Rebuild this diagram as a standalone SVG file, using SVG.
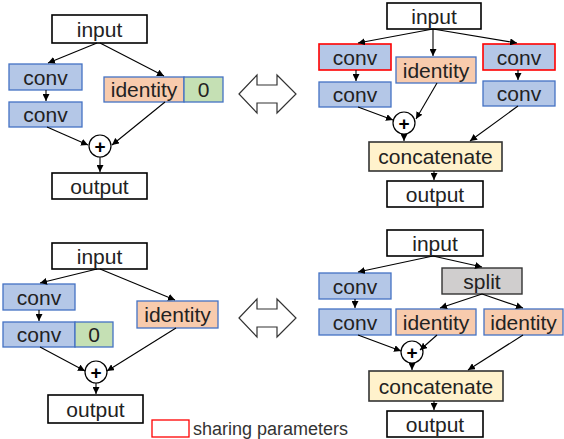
<svg xmlns="http://www.w3.org/2000/svg" width="564" height="439" viewBox="0 0 564 439">
<defs>
<marker id="ah" viewBox="0 0 8 8" refX="8" refY="4" markerWidth="7" markerHeight="7" markerUnits="userSpaceOnUse" orient="auto">
<path d="M0,0 L8,4 L0,8 z" fill="#000"/>
</marker>
<style>
rect{stroke-width:1.3}
.io{fill:#fff;stroke:#000;stroke-width:1.6}
.conv{fill:#b4c7e7;stroke:#4472c4}
.shared{fill:#b4c7e7;stroke:#ff0000;stroke-width:1.6}
.id{fill:#f8cbad;stroke:#4472c4}
.zero{fill:#c5e0b4;stroke:#4472c4}
.split{fill:#d0cece;stroke:#333;stroke-width:1.4}
.cat{fill:#fff2cc;stroke:#333;stroke-width:1.6}
.plus{fill:#fff;stroke:#000;stroke-width:1.2}
text{font-family:"Liberation Sans",Arial,sans-serif;font-size:21px;fill:#222;text-anchor:middle}
.pt{font-size:19px;font-weight:bold;fill:#000}
.leg{font-size:18px;text-anchor:start;fill:#333}
.c line{stroke:#000;stroke-width:1.1;marker-end:url(#ah)}
.dbl{fill:#fff;stroke:#333;stroke-width:1.2}
</style>
</defs>

<!-- Top-left -->
<g id="tl-input"><rect class="io" x="52" y="15" width="95" height="28"/><text x="99.5" y="36.5">input</text></g>
<g id="tl-conv1"><rect class="conv" x="9" y="64" width="73" height="26"/><text x="45.5" y="84.5">conv</text></g>
<g id="tl-conv2"><rect class="conv" x="9" y="102" width="73" height="25"/><text x="45.5" y="122">conv</text></g>
<g id="tl-identity"><rect class="id" x="104" y="77" width="80" height="25"/><text x="144" y="97">identity</text></g>
<g id="tl-zero"><rect class="zero" x="184" y="77" width="39" height="25"/><text x="203.5" y="97">0</text></g>
<g id="tl-plus"><circle class="plus" cx="100" cy="146" r="11"/><text class="pt" x="100" y="152.5">+</text></g>
<g id="tl-output"><rect class="io" x="52" y="173" width="95" height="26"/><text x="99.5" y="193.5">output</text></g>

<!-- Top-right -->
<g id="tr-input"><rect class="io" x="387" y="3" width="94" height="26"/><text x="434" y="23.5">input</text></g>
<g id="tr-conv1"><rect class="shared" x="319" y="44" width="72" height="26"/><text x="355" y="64.5">conv</text></g>
<g id="tr-conv2"><rect class="conv" x="319" y="82" width="72" height="25"/><text x="355" y="102">conv</text></g>
<g id="tr-identity"><rect class="id" x="396" y="57" width="80" height="26"/><text x="436" y="77.5">identity</text></g>
<g id="tr-conv3"><rect class="shared" x="483" y="44" width="72" height="26"/><text x="519" y="64.5">conv</text></g>
<g id="tr-conv4"><rect class="conv" x="483" y="81" width="72" height="25"/><text x="519" y="101">conv</text></g>
<g id="tr-plus"><circle class="plus" cx="404" cy="123" r="11"/><text class="pt" x="404" y="129.5">+</text></g>
<g id="tr-concat"><rect class="cat" x="369" y="142" width="133" height="29"/><text x="435.5" y="164">concatenate</text></g>
<g id="tr-output"><rect class="io" x="387" y="181" width="96" height="26"/><text x="435" y="201.5">output</text></g>

<!-- Bottom-left -->
<g id="bl-input"><rect class="io" x="52" y="243" width="95" height="26"/><text x="99.5" y="263.5">input</text></g>
<g id="bl-conv1"><rect class="conv" x="3" y="284" width="72" height="26"/><text x="39" y="304.5">conv</text></g>
<g id="bl-conv2"><rect class="conv" x="3" y="322" width="72" height="25"/><text x="39" y="342">conv</text></g>
<g id="bl-zero"><rect class="zero" x="75" y="322" width="38" height="25"/><text x="94" y="342">0</text></g>
<g id="bl-identity"><rect class="id" x="137" y="301" width="81" height="27"/><text x="177.5" y="322">identity</text></g>
<g id="bl-plus"><circle class="plus" cx="96" cy="372" r="11"/><text class="pt" x="96" y="378.5">+</text></g>
<g id="bl-output"><rect class="io" x="48" y="395" width="95" height="28"/><text x="95.5" y="416.5">output</text></g>

<!-- Bottom-right -->
<g id="br-input"><rect class="io" x="387" y="230" width="96" height="26"/><text x="435" y="250.5">input</text></g>
<g id="br-split"><rect class="split" x="442" y="268" width="80" height="26"/><text x="482" y="288.5">split</text></g>
<g id="br-conv1"><rect class="conv" x="319" y="273" width="72" height="26"/><text x="355" y="293.5">conv</text></g>
<g id="br-conv2"><rect class="conv" x="319" y="309" width="72" height="26"/><text x="355" y="329.5">conv</text></g>
<g id="br-identity1"><rect class="id" x="396" y="309" width="80" height="26"/><text x="436" y="329.5">identity</text></g>
<g id="br-identity2"><rect class="id" x="484" y="309" width="79" height="26"/><text x="523.5" y="329.5">identity</text></g>
<g id="br-plus"><circle class="plus" cx="412" cy="352" r="11"/><text class="pt" x="412" y="358.5">+</text></g>
<g id="br-concat"><rect class="cat" x="369" y="371" width="134" height="30"/><text x="436" y="393.5">concatenate</text></g>
<g id="br-output"><rect class="io" x="387" y="411" width="96" height="26"/><text x="435" y="431.5">output</text></g>

<!-- Equivalence arrows -->
<g id="equiv-top"><polygon class="dbl" points="239,94 257,75 257,85 277,85 277,75 296,94 277,113 277,103 257,103 257,113"/></g>
<g id="equiv-bottom"><polygon class="dbl" points="239,318 257,299 257,309 277,309 277,299 296,318 277,337 277,327 257,327 257,337"/></g>

<!-- Legend -->
<g id="legend"><rect x="152" y="420" width="37" height="17" fill="#fff" stroke="#ff0000" stroke-width="1.3"/><text class="leg" x="193" y="435">sharing parameters</text></g>

<g id="connectors" class="c">
<line x1="97" y1="43" x2="48" y2="63"/>
<line x1="100" y1="43" x2="164" y2="76"/>
<line x1="46" y1="90" x2="46" y2="101"/>
<line x1="47" y1="127" x2="88" y2="145"/>
<line x1="165" y1="102" x2="112" y2="145"/>
<line x1="100" y1="157" x2="100" y2="172"/>

<line x1="433" y1="29" x2="358" y2="43"/>
<line x1="433" y1="29" x2="433" y2="56"/>
<line x1="433" y1="29" x2="517" y2="43"/>
<line x1="356" y1="70" x2="356" y2="81"/>
<line x1="518" y1="70" x2="518" y2="80"/>
<line x1="358" y1="107" x2="393" y2="120"/>
<line x1="437" y1="83" x2="416" y2="119"/>
<line x1="404" y1="134" x2="404" y2="141"/>
<line x1="518" y1="106" x2="470" y2="141"/>
<line x1="434" y1="171" x2="434" y2="180"/>

<line x1="97" y1="269" x2="40" y2="283"/>
<line x1="100" y1="269" x2="175" y2="300"/>
<line x1="39" y1="310" x2="39" y2="321"/>
<line x1="40" y1="347" x2="85" y2="371"/>
<line x1="176" y1="328" x2="107" y2="371"/>
<line x1="96" y1="383" x2="96" y2="394"/>

<line x1="433" y1="256" x2="358" y2="272"/>
<line x1="433" y1="256" x2="482" y2="267"/>
<line x1="482" y1="294" x2="440" y2="308"/>
<line x1="482" y1="294" x2="523" y2="308"/>
<line x1="355" y1="299" x2="355" y2="308"/>
<line x1="358" y1="335" x2="401" y2="351"/>
<line x1="437" y1="335" x2="420" y2="350"/>
<line x1="412" y1="363" x2="412" y2="370"/>
<line x1="523" y1="335" x2="468" y2="370"/>
<line x1="434" y1="401" x2="434" y2="410"/>
</g>
</svg>
